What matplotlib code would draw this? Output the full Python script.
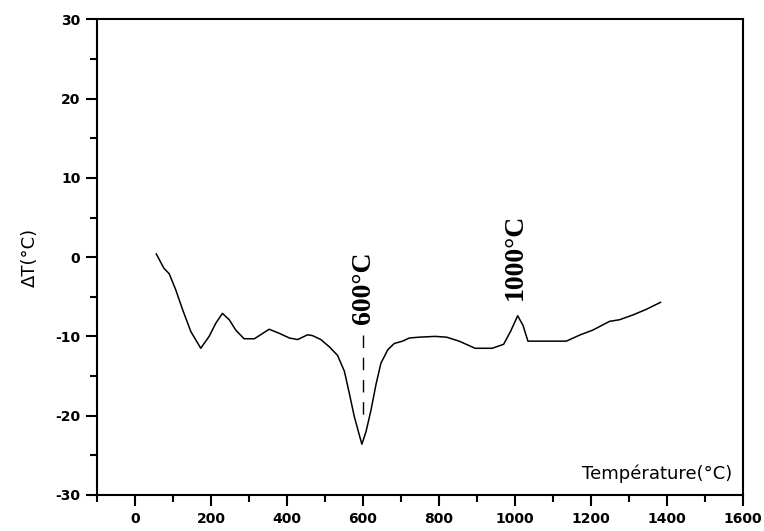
import matplotlib
matplotlib.use("Agg")
import matplotlib.pyplot as plt
from matplotlib.ticker import MultipleLocator

# DTA curve, temperature (°C) vs temperature difference (°C)
temperature = [56, 76, 90, 107, 125, 147, 173, 195, 213, 230, 248, 265, 287,
               314, 327, 353, 379, 406, 428, 454, 467, 489, 511, 533, 551,
               564, 577, 590, 597, 608, 621, 634, 647, 665, 682, 704, 722,
               748, 790, 820, 853, 895, 940, 970, 988, 1007, 1021, 1034,
               1100, 1135, 1172, 1205, 1225, 1249, 1275, 1310, 1345, 1383]
delta_t = [0.4, -1.4, -2.1, -4.1, -6.6, -9.4, -11.5, -10.0, -8.3, -7.1, -7.9,
           -9.2, -10.3, -10.3, -9.9, -9.1, -9.6, -10.2, -10.4, -9.8, -9.9,
           -10.4, -11.3, -12.4, -14.4, -17.2, -20.1, -22.4, -23.6, -22.0,
           -19.3, -16.1, -13.4, -11.7, -10.9, -10.6, -10.2, -10.1, -10.0,
           -10.1, -10.6, -11.5, -11.5, -11.0, -9.4, -7.4, -8.6, -10.6, -10.6,
           -10.6, -9.8, -9.2, -8.7, -8.1, -7.9, -7.3, -6.6, -5.7]

# peak annotations: position, text centre height
peak_temps = [600, 1000]
peak_labels = ["600°C", "1000°C"]
peak_text_y = [-3.8, 0.1]
marker_span = (-9.8, -21.0)

plt.rcParams["axes.unicode_minus"] = False

fig = plt.figure(figsize=(7.64, 5.31), dpi=100)
ax = fig.add_axes([0.127, 0.068, 0.8455, 0.8955])

ax.plot(temperature, delta_t, color="black", linewidth=1.1)

# dashed marker under the endothermic peak
ax.plot([peak_temps[0], peak_temps[0]], marker_span, color="black",
        linewidth=1.0, dashes=(9, 7))

for t, lab, ty in zip(peak_temps, peak_labels, peak_text_y):
    ax.text(t, ty, lab, rotation=90, ha="center", va="center",
            fontsize=20, family="Liberation Serif", fontweight="bold")

ax.set_xlim(-100, 1600)
ax.set_ylim(-30, 30)
ax.xaxis.set_major_locator(MultipleLocator(200))
ax.xaxis.set_minor_locator(MultipleLocator(100))
ax.yaxis.set_major_locator(MultipleLocator(10))
ax.yaxis.set_minor_locator(MultipleLocator(5))

ax.tick_params(which="both", direction="out", width=1.5, top=False, right=False)
ax.tick_params(which="major", length=8, labelsize=10, pad=4)
ax.tick_params(which="minor", length=5)
for lab in ax.get_xticklabels() + ax.get_yticklabels():
    lab.set_fontweight("bold")
for sp in ax.spines.values():
    sp.set_linewidth(1.5)

ax.set_ylabel("ΔT(°C)", fontsize=13, labelpad=12)
ax.text(0.984, 0.044, "Température(°C)", transform=ax.transAxes,
        ha="right", va="center", fontsize=13)

fig.savefig("out.png", dpi=100)
